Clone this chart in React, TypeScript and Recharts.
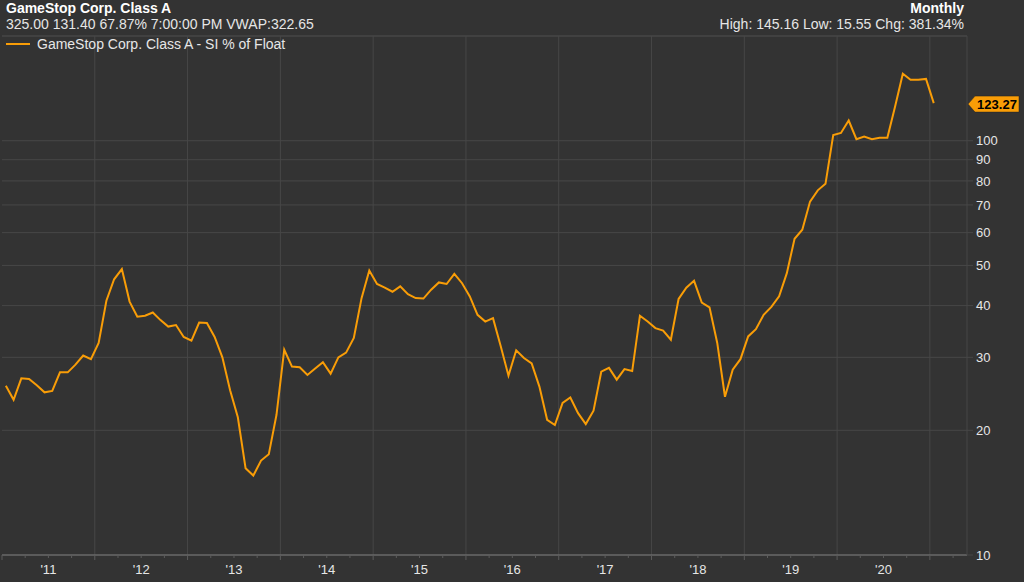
import { LineChart, Line, XAxis, YAxis, CartesianGrid, ReferenceLine } from "recharts";

// monthly short interest, % of float, Jan 2011 .. Jan 2021
const siValues = [
  25.61, 23.7, 26.7, 26.6, 25.7, 24.7, 24.9, 27.6, 27.6, 28.8, 30.3, 29.7,
  32.5, 41.1, 46.3, 49.0, 40.9, 37.6, 37.8, 38.5, 36.9, 35.6, 35.9, 33.6,
  32.9, 36.4, 36.3, 33.6, 30.0, 25.0, 21.5, 16.2, 15.55, 16.9, 17.5, 21.8,
  31.3, 28.5, 28.4, 27.2, 28.2, 29.2, 27.4, 30.0, 30.8, 33.4, 41.7, 48.6,
  45.1, 44.2, 43.2, 44.5, 42.6, 41.7, 41.6, 43.7, 45.5, 45.1, 47.7, 45.3,
  42.1, 38.0, 36.6, 37.3, 31.9, 27.1, 31.2, 29.9, 29.0, 25.5, 21.2, 20.6,
  23.3, 24.0, 22.0, 20.7, 22.3, 27.7, 28.3, 26.5, 28.1, 27.8, 37.8, 36.6,
  35.3, 34.8, 33.1, 41.5, 44.2, 45.9, 40.7, 39.6, 32.5, 24.1, 28.0, 29.7,
  33.7, 35.1, 38.0, 39.7, 42.1, 47.9, 58.0, 61.0, 71.3, 75.9, 78.7, 103.2,
  104.4, 111.9, 100.9, 102.4, 100.9, 101.7, 101.7, 121.0, 145.16, 140.4, 140.4, 141.0,
  123.27,
];

const yearLabels = ["'11", "'12", "'13", "'14", "'15", "'16", "'17", "'18", "'19", "'20"];
const yearBoundaries = [12, 24, 36, 48, 60, 72, 84, 96, 108, 120];
const quarterTicks = [
  0, 3, 6, 9, 12, 15, 18, 21, 24, 27, 30, 33, 36, 39, 42, 45, 48, 51, 54, 57, 60,
  63, 66, 69, 72, 75, 78, 81, 84, 87, 90, 93, 96, 99, 102, 105, 108, 111, 114, 117,
  120, 123,
];
const yTicks = [10, 20, 30, 40, 50, 60, 70, 80, 90, 100];

const lastValue = siValues[siValues.length - 1];
const data = siValues.map((v, i) => ({ t: i + 0.5, v }));

const BG = "#333333";
const GRID = "#474747";
const TEXT = "#e6e6e6";
const ORANGE = "#F99D07";
const FONT = "'Liberation Sans', Arial, sans-serif";

function MonthTick({ x, y, payload }: any) {
  const t = payload.value as number;
  const major = t % 12 === 0;
  const label = t % 12 === 6 ? yearLabels[(t - 6) / 12] : null;
  return (
    <g>
      <line x1={x} x2={x} y1={y} y2={y + (major ? 5 : 3)} stroke="#5c5c5c" />
      {label && (
        <text x={x} y={y + 19} textAnchor="middle" fill={TEXT} fontSize={13} fontFamily={FONT}>
          {label}
        </text>
      )}
    </g>
  );
}

function PriceTag(props: any) {
  const vb = props.viewBox || {};
  const x0 = (vb.x ?? 0) + (vb.width ?? 0) + 1;
  const y = (vb.y ?? 0) + 1;
  const pts = `${x0},${y} ${x0 + 7},${y - 8} ${x0 + 51},${y - 8} ${x0 + 51},${y + 8} ${x0 + 7},${y + 8}`;
  return (
    <g>
      <polygon points={pts} fill={ORANGE} stroke="#222" strokeWidth={0.5} />
      <text x={x0 + 29} y={y + 4.5} textAnchor="middle" fontSize={13} fontWeight="bold" fill="#000" fontFamily={FONT}>
        {lastValue.toFixed(2)}
      </text>
    </g>
  );
}

export default function App() {
  return (
    <div style={{ position: "relative", width: 1024, height: 582, background: BG, fontFamily: FONT, overflow: "hidden" }}>
      <style>{"body{margin:0;background:#333333}"}</style>
      <div style={{ position: "absolute", left: 6, top: 0, color: "#fff", fontSize: 14, fontWeight: "bold" }}>
        GameStop Corp. Class A
      </div>
      <div style={{ position: "absolute", left: 6, top: 16, color: TEXT, fontSize: 14 }}>
        325.00 131.40 67.87% 7:00:00 PM VWAP:322.65
      </div>
      <div style={{ position: "absolute", right: 60, top: 0, color: "#fff", fontSize: 14, fontWeight: "bold" }}>
        Monthly
      </div>
      <div style={{ position: "absolute", right: 60, top: 16, color: TEXT, fontSize: 14 }}>
        High: 145.16 Low: 15.55 Chg: 381.34%
      </div>

      <LineChart width={1024} height={582} data={data} margin={{ top: 36, right: 0, bottom: 0, left: 2 }}>
        <CartesianGrid vertical={false} stroke={GRID} />
        {yearBoundaries.map((b) => (
          <ReferenceLine key={b} x={b} stroke={GRID} />
        ))}
        <ReferenceLine y={179} stroke={GRID} />
        <XAxis
          dataKey="t"
          type="number"
          domain={[0, 124.8]}
          allowDataOverflow
          ticks={quarterTicks}
          interval={0}
          tickLine={false}
          tickSize={0}
          tickMargin={0}
          axisLine={{ stroke: "#7a7a7a" }}
          tick={<MonthTick />}
          height={27}
        />
        <YAxis
          orientation="right"
          scale="log"
          domain={[10, 179]}
          allowDataOverflow
          ticks={yTicks}
          interval={0}
          width={57}
          tickSize={6}
          tickMargin={3}
          tickLine={{ stroke: GRID }}
          axisLine={{ stroke: GRID }}
          tick={{ fill: TEXT, fontSize: 13, fontFamily: FONT }}
        />
        <Line
          type="linear"
          dataKey="v"
          stroke={ORANGE}
          strokeWidth={2}
          dot={false}
          isAnimationActive={false}
        />
        <ReferenceLine y={lastValue} stroke="none" label={<PriceTag />} />
      </LineChart>

      <div style={{ position: "absolute", left: 6, top: 36, display: "flex", alignItems: "center", gap: 7 }}>
        <span style={{ display: "inline-block", width: 24, height: 2, background: ORANGE }} />
        <span style={{ color: TEXT, fontSize: 14 }}>GameStop Corp. Class A - SI % of Float</span>
      </div>
    </div>
  );
}
